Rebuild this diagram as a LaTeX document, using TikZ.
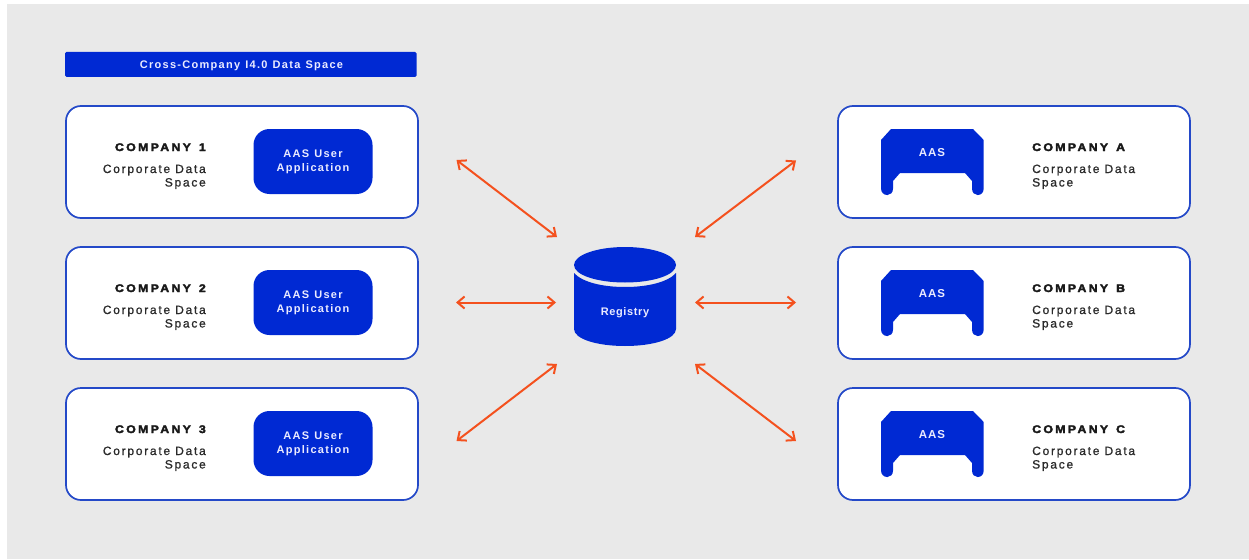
\documentclass[tikz,border=0pt]{standalone}
\usepackage{fontspec}
\setmainfont{Liberation Sans}
\newfontfamily\bodyfont[LetterSpace=14.5,FakeBold=1]{Liberation Sans}
\newfontfamily\headfont[LetterSpace=21,FakeStretch=1.12,FakeBold=3,WordSpace=1.4]{Liberation Sans Bold}
\newfontfamily\whitefont[LetterSpace=11.6,WordSpace=1.2]{Liberation Sans Bold}
\newfontfamily\tightfont[LetterSpace=5.5]{Liberation Sans Bold}
\newfontfamily\aasfont[LetterSpace=8]{Liberation Sans Bold}
\usetikzlibrary{arrows.meta}
\definecolor{panelgray}{HTML}{E9E9E9}
\definecolor{aasblue}{HTML}{0029D3}
\definecolor{edgeblue}{HTML}{2449C8}
\definecolor{arroworange}{HTML}{F4511E}
\definecolor{ink}{HTML}{2A2A2A}
\tikzset{
  x=1pt,y=-1pt,
  panel/.style={fill=panelgray,draw=none},
  header/.style={fill=aasblue,draw=none,rounded corners=1.5pt},
  company/.style={draw=edgeblue,line width=1.7pt,fill=white,rounded corners=15pt},
  appbox/.style={fill=aasblue,rounded corners=16pt},
  solidblue/.style={fill=aasblue,draw=none},
  title/.style={inner sep=0pt,font=\headfont\fontsize{11}{13}\selectfont,text=black!90},
  body/.style={inner sep=0pt,font=\bodyfont\fontsize{12}{14}\selectfont,text=ink},
  onblue/.style={inner sep=0pt,text=white!92!blue,font=\whitefont\fontsize{11}{13}\selectfont},
  link/.style={draw=arroworange,line width=2pt,{Straight Barb[length=7pt,width=12pt]}-{Straight Barb[length=7pt,width=12pt]}},
}
\begin{document}
\begin{tikzpicture}
\useasboundingbox (0,0) rectangle (1249,559);
\fill[white] (0,0) rectangle (1249,559);
\path[panel] (7,4) rectangle (1249,559);
\path[header] (65,52) rectangle (416.5,77);
\node[onblue,anchor=base] (spacetitle) at (241.5,68.5) {Cross-Company I4.0 Data Space};
% left companies
\foreach \n/\lab/\dy in {1/1/0,2/2/141,3/3/282}{
  \node[company,minimum width=352pt,minimum height=112pt,inner sep=0pt] (c\n) at (242,162+\dy) {};
  \node[appbox,minimum width=119pt,minimum height=65pt,inner sep=0pt] (app\n) at (313,161.5+\dy) {};
  \node[onblue,anchor=base] (appa\n) at (313,157.5+\dy) {AAS User};
  \node[onblue,anchor=base] (appb\n) at (313,171.5+\dy) {Application};
  \node[title,anchor=base east] (ct\n) at (206,151+\dy) {COMPANY \lab};
  \node[body,anchor=base east] (cb\n) at (206,173+\dy) {Corporate Data};
  \node[body,anchor=base east] (cc\n) at (206,186.5+\dy) {Space};
}
% right companies
\foreach \n/\lab/\dy in {a/A/0,b/B/141,c/C/282}{
  \node[company,minimum width=352pt,minimum height=112pt,inner sep=0pt] (c\n) at (1014,162+\dy) {};
  \begin{scope}[shift={(0,\dy)}]
    \path[solidblue] (891,129) -- (973,129) -- (983.7,140) -- (983.7,188.5)
      .. controls (983.7,192.5) and (981,195) .. (978,195) -- (977.5,195)
      .. controls (974.5,195) and (972,192.5) .. (972,188.5) -- (972,181) -- (965,173)
      -- (900,173) -- (893,181) -- (893,188.5)
      .. controls (893,192.5) and (890.5,195) .. (887.5,195) -- (887,195)
      .. controls (884,195) and (881,192.5) .. (881,188.5) -- (881,140) -- cycle;
  \end{scope}
  \node[onblue,anchor=base,font=\aasfont\fontsize{11.5}{13}\selectfont] (aas\n) at (932,156+\dy) {AAS};
  \node[title,anchor=base west] (ct\n) at (1032,151+\dy) {COMPANY \lab};
  \node[body,anchor=base west] (cb\n) at (1032,173+\dy) {Corporate Data};
  \node[body,anchor=base west] (cc\n) at (1032,186.5+\dy) {Space};
}
% registry
\path[solidblue] (574,265) .. controls (574,255) and (597,247) .. (625,247)
  .. controls (653,247) and (676,255) .. (676,265)
  .. controls (676,275) and (653,282.5) .. (625,282.5)
  .. controls (597,282.5) and (574,275) .. (574,265) -- cycle;
\path[solidblue] (574,273) .. controls (582,282) and (602,287) .. (625,287)
  .. controls (648,287) and (668,282) .. (676,273) -- (676,329)
  .. controls (676,339) and (653,346) .. (625,346)
  .. controls (597,346) and (574,339) .. (574,329) -- cycle;
\node[onblue,anchor=base,font=\tightfont\fontsize{11}{13}\selectfont] (registry) at (625,315) {Registry};
% connector ends
\coordinate (l1) at (456.5,160);   \coordinate (r1) at (557,237);
\coordinate (l2) at (456,302.5);   \coordinate (r2) at (556,302.5);
\coordinate (l3) at (456.5,441);   \coordinate (r3) at (557,364);
\coordinate (l4) at (796,160.5);   \coordinate (r4) at (695,237);
\coordinate (l5) at (796,302.5);   \coordinate (r5) at (695,302.5);
\coordinate (l6) at (796,441);     \coordinate (r6) at (695,364);
\foreach \i in {1,...,6}{ \draw[link] (l\i) -- (r\i); }
\end{tikzpicture}
\end{document}
